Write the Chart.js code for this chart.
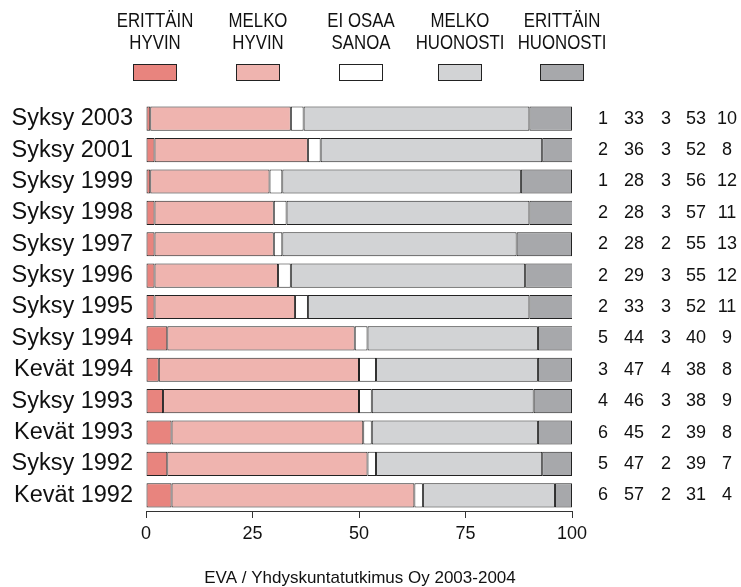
<!DOCTYPE html>
<html>
<head>
<meta charset="utf-8">
<script src="https://cdn.jsdelivr.net/npm/chart.js@4"></script>
<style>
  body { margin: 0; background: #fff; }
  #wrap { width: 741px; height: 587px; }
</style>
</head>
<body>
<div id="wrap"><canvas id="eva-chart" width="741" height="587"></canvas></div>
<script>
// rows, top to bottom
let periods = ['Syksy 2003', 'Syksy 2001', 'Syksy 1999', 'Syksy 1998', 'Syksy 1997', 'Syksy 1996',
    'Syksy 1995', 'Syksy 1994', 'Kevät 1994', 'Syksy 1993', 'Kevät 1993', 'Syksy 1992', 'Kevät 1992'];

let erittainHyvin   = [1, 2, 1, 2, 2, 2, 2, 5, 3, 4, 6, 5, 6];
let melkoHyvin      = [33, 36, 28, 28, 28, 29, 33, 44, 47, 46, 45, 47, 57];
let eiOsaaSanoa     = [3, 3, 3, 3, 2, 3, 3, 3, 4, 3, 2, 2, 2];
let melkoHuonosti   = [53, 52, 56, 57, 55, 55, 52, 40, 38, 38, 39, 39, 31];
let erittainHuonosti = [10, 8, 12, 11, 13, 12, 11, 9, 8, 9, 8, 7, 4];

let seriesNames = [['ERITTÄIN', 'HYVIN'], ['MELKO', 'HYVIN'], ['EI OSAA', 'SANOA'], ['MELKO', 'HUONOSTI'], ['ERITTÄIN', 'HUONOSTI']];
let xTicks = [0, 25, 50, 75, 100];

let colors = ['#e8847e', '#efb4af', '#ffffff', '#d2d3d5', '#a7a8ab'];
let allSeries = [erittainHyvin, melkoHyvin, eiOsaaSanoa, melkoHuonosti, erittainHuonosti];

let FONT = 'Liberation Sans, Arial, sans-serif';

// legend on top: two-line labels (narrow type) with a box under each
let legendPlugin = {
    id: 'topLegend',
    afterDraw(chart) {
        let c = chart.ctx;
        let centers = [155, 258, 361, 460, 562];
        let squeeze = 0.82;
        c.save();
        c.font = '20.5px ' + FONT;
        c.textAlign = 'center';
        c.textBaseline = 'middle';
        seriesNames.forEach((n, i) => {
            c.save();
            c.scale(squeeze, 1);
            c.fillStyle = '#111';
            c.fillText(n[0], centers[i] / squeeze, 21);
            c.fillText(n[1], centers[i] / squeeze, 43);
            c.restore();
            c.fillStyle = colors[i];
            c.fillRect(centers[i] - 22, 64, 44, 17);
            c.strokeStyle = '#222';
            c.lineWidth = 1;
            c.strokeRect(centers[i] - 22 + 0.5, 64.5, 43, 16);
        });
        c.restore();
    }
};

// values listed to the right of each bar + footer
let numbersPlugin = {
    id: 'rowNumbers',
    afterDraw(chart) {
        let c = chart.ctx;
        let y = chart.scales.y;
        let cols = [603, 634, 666, 696, 727];
        c.save();
        c.font = '18px ' + FONT;
        c.fillStyle = '#111';
        c.textAlign = 'center';
        c.textBaseline = 'middle';
        periods.forEach((p, i) => {
            let py = y.getPixelForValue(i);
            allSeries.forEach((s, j) => {
                c.fillText(String(s[i]), cols[j], py);
            });
        });
        c.font = '17px ' + FONT;
        c.fillText('EVA / Yhdyskuntatutkimus Oy 2003-2004', 360, 578);
        c.restore();
    }
};

let ctx = document.getElementById('eva-chart').getContext('2d');
let chart = new Chart(ctx, {
    type: 'bar',
    data: {
        labels: periods,
        datasets: allSeries.map((s, i) => ({
            label: seriesNames[i].join(' '),
            data: s,
            backgroundColor: colors[i],
            borderColor: '#222',
            borderWidth: 1,
            borderSkipped: false,
            barPercentage: 0.77,
            categoryPercentage: 1
        }))
    },
    options: {
        indexAxis: 'y',
        responsive: false,
        animation: false,
        layout: { padding: { top: 103, right: 169, left: 0, bottom: 0 } },
        plugins: { legend: { display: false }, tooltip: { enabled: false } },
        scales: {
            x: {
                stacked: true,
                min: 0,
                max: 100,
                afterBuildTicks: (axis) => { axis.ticks = xTicks.map(v => ({ value: v })); },
                afterFit: (axis) => { axis.height = 76; },
                grid: { drawOnChartArea: false, drawTicks: true, tickLength: 7, color: '#333' },
                border: { display: true, color: '#333' },
                ticks: { color: '#111', font: { size: 18, family: FONT }, padding: 5, maxRotation: 0 }
            },
            y: {
                stacked: true,
                afterFit: (axis) => { axis.width = 146; },
                grid: { display: false, drawTicks: false },
                border: { display: false },
                ticks: { color: '#111', font: { size: 23.5, family: FONT }, padding: 13 }
            }
        }
    },
    plugins: [legendPlugin, numbersPlugin]
});
</script>
</body>
</html>
